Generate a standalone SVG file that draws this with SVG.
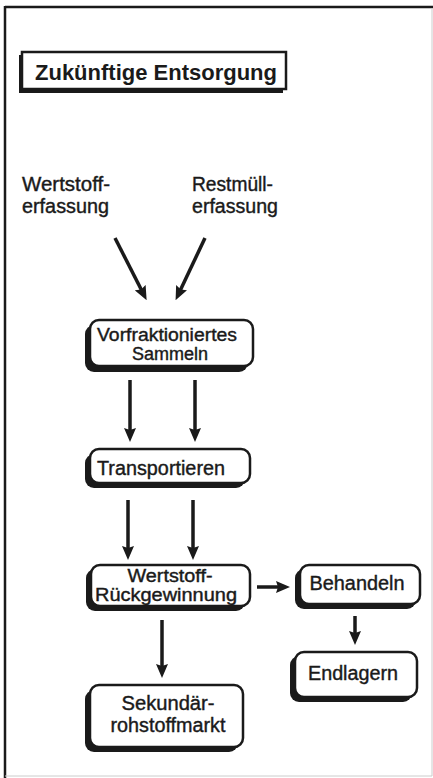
<svg xmlns="http://www.w3.org/2000/svg" width="433" height="778" viewBox="0 0 433 778">
<style>
text{font-family:"Liberation Sans",Arial,sans-serif;fill:#1a1a1a;}
.t{font-size:20px;stroke:#1a1a1a;stroke-width:0.4;}
.t2{font-size:18px;stroke:#1a1a1a;stroke-width:0.4;}
.ttl{font-size:22px;font-weight:bold;}
.sh{fill:#1a1a1a;}
.bx{fill:#fff;stroke:#1a1a1a;stroke-width:2.5;}
.ar{stroke:#1a1a1a;stroke-width:3.5;fill:none;marker-end:url(#ah);}
</style>
<defs>
<marker id="ah" viewBox="0 0 14 12" refX="6" refY="6" markerWidth="14" markerHeight="12" markerUnits="userSpaceOnUse" orient="auto">
<path d="M0,0 L14,6 L0,12 L2,6 z" fill="#1a1a1a"/>
</marker>
</defs>
<rect width="433" height="778" fill="#fff"/>
<g id="frame">
<line x1="5" y1="7" x2="433" y2="7" stroke="#1a1a1a" stroke-width="2.5"/>
<line x1="5" y1="6" x2="5" y2="778" stroke="#1a1a1a" stroke-width="2.5"/>
<line x1="432" y1="8" x2="432" y2="776" stroke="#ccc" stroke-width="1"/>
<line x1="5" y1="776" x2="432" y2="776" stroke="#ccc" stroke-width="1"/>
</g>
<g id="title">
<rect x="19" y="55" width="264" height="38" class="sh"/>
<rect x="22" y="52" width="264" height="37" class="bx"/>
<text x="35" y="80" class="ttl" textLength="242">Zukünftige Entsorgung</text>
</g>
<g id="wertstofferfassung">
<text x="22" y="191" class="t" textLength="88" lengthAdjust="spacingAndGlyphs">Wertstoff-</text>
<text x="22" y="213" class="t" textLength="87" lengthAdjust="spacingAndGlyphs">erfassung</text>
</g>
<g id="restmuellerfassung">
<text x="192" y="191" class="t" textLength="81" lengthAdjust="spacingAndGlyphs">Restmüll-</text>
<text x="192" y="213" class="t" textLength="86" lengthAdjust="spacingAndGlyphs">erfassung</text>
</g>
<g id="vorfraktioniertes">
<rect x="85" y="325" width="163" height="47" rx="9" class="sh"/>
<rect x="90" y="320" width="163" height="46" rx="9" class="bx"/>
<text x="167" y="341" class="t2" text-anchor="middle" textLength="140" lengthAdjust="spacingAndGlyphs">Vorfraktioniertes</text>
<text x="170" y="360" class="t2" text-anchor="middle" textLength="76" lengthAdjust="spacingAndGlyphs">Sammeln</text>
</g>
<g id="transportieren">
<rect x="85" y="454" width="160" height="34" rx="9" class="sh"/>
<rect x="90" y="449" width="160" height="34" rx="9" class="bx"/>
<text x="97" y="475" class="t" textLength="128" lengthAdjust="spacingAndGlyphs">Transportieren</text>
</g>
<g id="rueckgewinnung">
<rect x="86" y="569" width="159" height="42" rx="9" class="sh"/>
<rect x="91" y="565" width="159" height="41" rx="9" class="bx"/>
<text x="170" y="582" class="t2" text-anchor="middle" textLength="85" lengthAdjust="spacingAndGlyphs">Wertstoff-</text>
<text x="166" y="601" class="t2" text-anchor="middle" textLength="142" lengthAdjust="spacingAndGlyphs">Rückgewinnung</text>
</g>
<g id="behandeln">
<rect x="295" y="569" width="121" height="40" rx="9" class="sh"/>
<rect x="300" y="565" width="120" height="39" rx="9" class="bx"/>
<text x="357" y="590" class="t" text-anchor="middle" textLength="95" lengthAdjust="spacingAndGlyphs">Behandeln</text>
</g>
<g id="endlagern">
<rect x="290" y="656" width="122" height="46" rx="9" class="sh"/>
<rect x="295" y="652" width="122" height="45" rx="9" class="bx"/>
<text x="353" y="680" class="t" text-anchor="middle" textLength="90" lengthAdjust="spacingAndGlyphs">Endlagern</text>
</g>
<g id="sekundaerrohstoffmarkt">
<rect x="85" y="690" width="153" height="62" rx="9" class="sh"/>
<rect x="90" y="685" width="153" height="62" rx="9" class="bx"/>
<text x="168" y="710" class="t" text-anchor="middle" textLength="93" lengthAdjust="spacingAndGlyphs">Sekundär-</text>
<text x="168" y="732" class="t" text-anchor="middle" textLength="115" lengthAdjust="spacingAndGlyphs">rohstoffmarkt</text>
</g>
<g id="connectors">
<line x1="115" y1="238" x2="143" y2="293" class="ar"/>
<line x1="205" y1="238" x2="179" y2="293" class="ar"/>
<line x1="130" y1="380" x2="130" y2="434" class="ar"/>
<line x1="195" y1="380" x2="195" y2="434" class="ar"/>
<line x1="128" y1="500" x2="128" y2="552" class="ar"/>
<line x1="193" y1="500" x2="193" y2="552" class="ar"/>
<line x1="162" y1="620" x2="162" y2="670" class="ar"/>
<line x1="257" y1="587" x2="282" y2="587" class="ar"/>
<line x1="355" y1="616" x2="355" y2="637" class="ar"/>
</g>
</svg>
